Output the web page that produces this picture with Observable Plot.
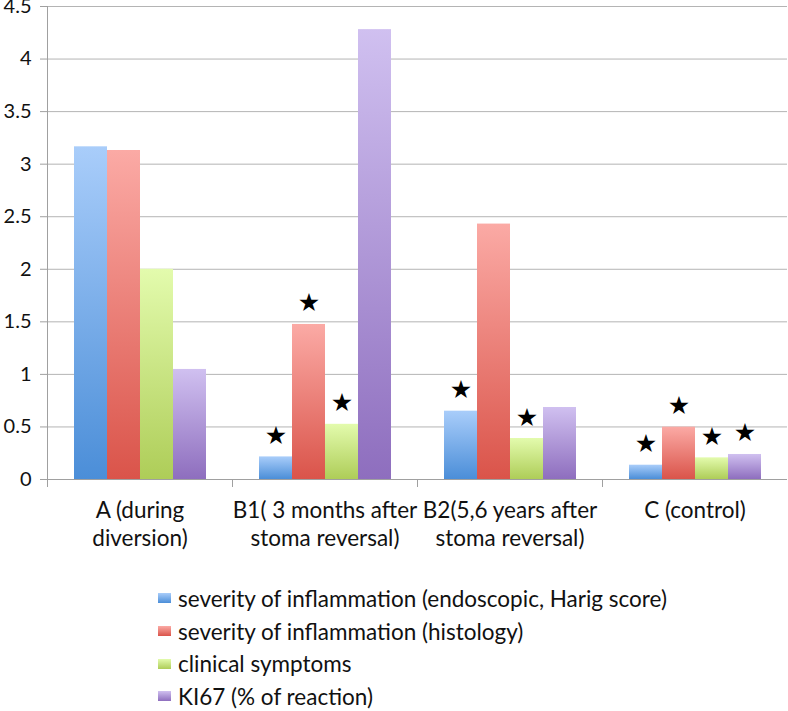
<!DOCTYPE html>
<html><head><meta charset="utf-8">
<script src="https://cdn.jsdelivr.net/npm/d3@7"></script>
<script src="https://cdn.jsdelivr.net/npm/@observablehq/plot@0.6"></script>
<style>
body{margin:0;background:#fff;font-family:Lato,"Open Sans",sans-serif;}
#legend{margin-left:158px;padding-top:14px;color:#111;font-size:22.5px;}
#legend .row{display:flex;align-items:center;height:32.7px;}
#legend .sw{width:13px;height:10px;margin-right:7px;}
</style></head>
<body><div id="chart"></div><div id="legend"></div>
<script>
const groups = ["A", "B1", "B2", "C"];
const groupLabels = ["A (during\ndiversion)", "B1( 3 months after\nstoma reversal)", "B2(5,6 years after\nstoma reversal)", "C (control)"];
const series = ["severity of inflammation (endoscopic, Harig score)", "severity of inflammation (histology)", "clinical symptoms", "KI67 (% of reaction)"];
const severityEndoscopic = [3.165, 0.215, 0.65, 0.136];
const severityHistology = [3.13, 1.475, 2.43, 0.498];
const clinicalSymptoms = [2.0, 0.525, 0.39, 0.206];
const ki67 = [1.047, 4.28, 0.685, 0.238];
const starEndoscopic = [false, true, true, true];
const starHistology = [false, true, false, true];
const starClinical = [false, true, true, true];
const starKi67 = [false, false, false, true];
const yTicks = [0, 0.5, 1, 1.5, 2, 2.5, 3, 3.5, 4, 4.5];
const yTickLabels = ["0", "0.5", "1", "1.5", "2", "2.5", "3", "3.5", "4", "4.5"];
const topColors = ["#a9cdfa", "#fbaaa5", "#e3fbad", "#d0c0f0"];
const bottomColors = ["#4b8ed8", "#da544a", "#aecd58", "#8e6ebe"];

const valueArrays = [severityEndoscopic, severityHistology, clinicalSymptoms, ki67];
const starArrays = [starEndoscopic, starHistology, starClinical, starKi67];
const rows = [];
groups.forEach((g, gi) => series.forEach((s, si) => rows.push({group: g, series: s, value: valueArrays[si][gi], star: starArrays[si][gi]})));

const chart = Plot.plot({
  width: 788, height: 568,
  marginLeft: 45, marginRight: 0, marginTop: 6, marginBottom: 89,
  style: {fontFamily: "Lato, 'Open Sans', sans-serif", fontSize: "20px", background: "#fff", color: "#111", overflow: "visible"},
  fx: {domain: groups, padding: 0, label: null},
  x: {domain: series, paddingInner: 0, paddingOuter: 0.77, axis: null},
  y: {domain: [0, 4.5], label: null},
  color: {type: "ordinal", domain: series, range: series.map((_, i) => `url(#grad${i})`)},
  marks: [
    Plot.gridY(yTicks, {stroke: "#b4b4b4", strokeOpacity: 1}),
    Plot.ruleY([0], {stroke: "#a0a0a0"}),
    Plot.barY(rows, {fx: "group", x: "series", y: "value", fill: "series", inset: 0}),
    Plot.text(rows.filter(d => d.star), {fx: "group", x: "series", y: "value", text: () => "★", dy: -21, fontSize: 25, fontFamily: "DejaVu Sans", fill: "#000", lineAnchor: "middle"}),
    Plot.axisY(yTicks, {tickSize: 7, tickPadding: 9, fontSize: 20, stroke: "#a0a0a0", fill: "#111", tickFormat: d => yTickLabels[yTicks.indexOf(d)]}),
    Plot.axisFx({anchor: "bottom", tickSize: 0, tickPadding: 19, fontSize: 22.5, lineHeight: 1.23, fill: "#111", label: null, tickFormat: d => groupLabels[groups.indexOf(d)]})
  ]
});

// gradients
const svg = d3.select(chart);
const defs = svg.insert("defs", ":first-child");
topColors.forEach((c, i) => {
  const lg = defs.append("linearGradient").attr("id", `grad${i}`).attr("x1", 0).attr("y1", 0).attr("x2", 0).attr("y2", 1);
  lg.append("stop").attr("offset", "0%").attr("stop-color", c);
  lg.append("stop").attr("offset", "100%").attr("stop-color", bottomColors[i]);
});
// axis line and category separator ticks
const fx = chart.scale("fx"), y = chart.scale("y");
const y0 = y.apply(0), yTop = y.apply(4.5);
const g = svg.append("g").attr("stroke", "#a0a0a0").attr("stroke-width", 1);
g.append("line").attr("x1", fx.apply(groups[0]) + 0.5).attr("x2", fx.apply(groups[0]) + 0.5).attr("y1", yTop).attr("y2", y0 + 8);
groups.slice(1).forEach(d => {
  const x0 = Math.round(fx.apply(d)) + 0.5;
  g.append("line").attr("x1", x0).attr("x2", x0).attr("y1", y0).attr("y2", y0 + 8);
});
document.getElementById("chart").appendChild(chart);

const legend = d3.select("#legend");
series.forEach((s, i) => {
  const r = legend.append("div").attr("class", "row");
  r.append("div").attr("class", "sw").style("background", `linear-gradient(${topColors[i]}, ${bottomColors[i]})`);
  r.append("span").text(s);
});
</script>
</body></html>
